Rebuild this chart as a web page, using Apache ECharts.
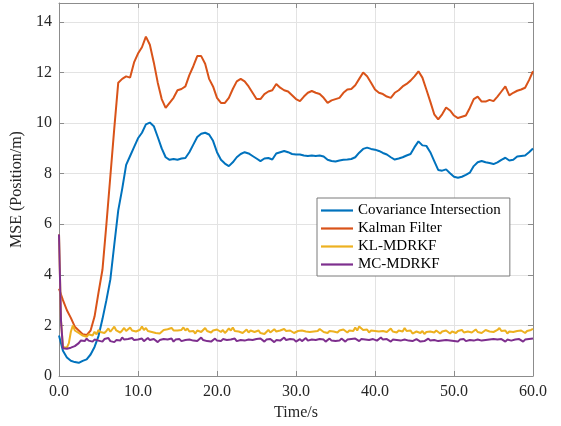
<!DOCTYPE html>
<html>
<head>
<meta charset="utf-8">
<script src="https://cdn.jsdelivr.net/npm/echarts@6/dist/echarts.min.js"></script>
<style>html,body{margin:0;padding:0;background:#fff}#c{width:561px;height:426px}</style>
</head>
<body>
<div id="c"></div>
<script>
// sampling steps (s)
const stepCoarse = 0.5;
const stepFine = 0.25;
const xTicks = [0, 10, 20, 30, 40, 50, 60];
const yTicks = [0, 2, 4, 6, 8, 10, 12, 14];
const seriesNames = ['Covariance Intersection', 'Kalman Filter', 'KL-MDRKF', 'MC-MDRKF'];

// Covariance Intersection, every 0.5 s
const ciValues = [1.6,1.0,0.73,0.6,0.55,0.52,0.6,0.66,0.85,1.15,1.58,2.25,3.0,3.82,5.2,6.55,7.4,8.35,8.7,9.05,
9.4,9.62,9.95,10.02,9.88,9.45,9.0,8.65,8.55,8.58,8.55,8.6,8.62,8.85,9.15,9.45,9.58,9.62,9.55,9.3,
8.85,8.55,8.4,8.3,8.45,8.65,8.78,8.85,8.8,8.7,8.6,8.5,8.6,8.62,8.56,8.8,8.85,8.9,8.85,8.78,
8.76,8.76,8.72,8.7,8.72,8.7,8.72,8.68,8.55,8.5,8.48,8.52,8.55,8.56,8.58,8.65,8.83,8.98,9.03,8.98,
8.95,8.9,8.82,8.76,8.65,8.56,8.6,8.65,8.72,8.78,9.05,9.28,9.12,9.1,8.85,8.5,8.15,8.12,8.17,8.02,
7.88,7.84,7.88,7.95,8.04,8.3,8.45,8.5,8.45,8.42,8.38,8.45,8.55,8.63,8.52,8.55,8.68,8.7,8.72,8.85,9.0];

// Kalman Filter, every 0.5 s
const kfValues = [3.45,3.0,2.6,2.3,1.95,1.8,1.65,1.62,1.8,2.35,3.3,4.2,6.0,7.9,9.8,11.6,11.75,11.85,11.8,12.4,
12.75,13.0,13.42,13.1,12.4,11.6,10.95,10.6,10.8,11.0,11.3,11.35,11.45,11.9,12.25,12.65,12.65,12.35,11.75,11.45,
11.0,10.8,10.8,11.0,11.35,11.65,11.75,11.65,11.45,11.2,10.95,10.95,11.15,11.25,11.3,11.55,11.4,11.3,11.25,11.1,
10.95,10.87,11.05,11.2,11.27,11.2,11.15,11.0,10.8,10.9,10.95,11.0,11.2,11.33,11.35,11.5,11.75,12.0,11.85,11.6,
11.33,11.2,11.15,11.05,11.0,11.2,11.3,11.45,11.55,11.68,11.85,12.05,11.8,11.33,10.85,10.35,10.15,10.35,10.62,10.5,
10.3,10.2,10.25,10.3,10.6,10.95,11.05,10.85,10.85,10.92,10.87,11.05,11.25,11.45,11.1,11.2,11.28,11.33,11.4,11.7,12.05];

// KL-MDRKF, every 0.25 s
const klValues = [5.6,2.2,1.15,1.1,1.12,1.3,1.75,2.0,1.8,1.78,1.7,1.75,1.6,1.62,1.55,1.65,1.72,1.6,1.75,1.65,1.82,
1.74,1.8,1.7,1.78,1.88,1.75,1.82,1.95,1.8,1.85,1.72,1.8,1.9,1.78,1.84,1.92,1.8,1.86,1.76,1.82,
1.83,1.96,1.82,1.9,1.78,1.85,1.74,1.8,1.7,1.76,1.68,1.74,1.82,1.76,1.85,1.78,1.9,1.8,1.86,1.8,
1.75,1.82,1.92,1.8,1.88,1.76,1.7,1.78,1.68,1.8,1.86,1.74,1.82,1.9,1.78,1.84,1.72,1.8,1.76,1.84,
1.86,1.74,1.82,1.7,1.78,1.88,1.8,1.92,1.78,1.85,1.76,1.82,1.7,1.76,1.84,1.72,1.8,1.86,1.74,1.78,
1.8,1.7,1.76,1.66,1.74,1.82,1.72,1.78,1.85,1.76,1.7,1.8,1.74,1.86,1.78,1.72,1.8,1.76,1.7,1.74,
1.78,1.72,1.8,1.86,1.76,1.82,1.74,1.68,1.76,1.82,1.78,1.86,1.8,1.74,1.8,1.7,1.78,1.84,1.76,1.8,
1.72,1.8,1.76,1.84,1.78,1.72,1.8,1.86,1.78,1.92,1.8,1.96,2.0,1.82,1.76,1.84,1.72,1.8,1.74,1.78,
1.82,1.76,1.7,1.78,1.84,1.74,1.8,1.88,1.76,1.82,1.72,1.8,1.86,1.76,1.9,1.78,1.72,1.8,1.68,1.74,
1.76,1.82,1.7,1.78,1.66,1.74,1.68,1.76,1.82,1.72,1.8,1.74,1.68,1.76,1.7,1.8,1.74,1.68,1.76,1.72,
1.7,1.78,1.74,1.82,1.72,1.66,1.76,1.8,1.72,1.78,1.84,1.74,1.8,1.7,1.76,1.82,1.86,1.76,1.8,1.74,
1.74,1.82,1.9,1.78,1.72,1.8,1.68,1.76,1.82,1.74,1.7,1.78,1.72,1.8,1.76,1.7,1.78,1.74,1.82,1.86];

// MC-MDRKF, every 0.25 s
const mcValues = [5.6,2.2,1.1,1.05,1.08,1.1,1.12,1.1,1.18,1.25,1.3,1.4,1.45,1.38,1.48,1.4,1.46,1.36,1.44,1.5,1.4,
1.42,1.36,1.46,1.4,1.5,1.38,1.44,1.34,1.42,1.48,1.4,1.52,1.44,1.38,1.46,1.4,1.5,1.42,1.36,1.44,
1.4,1.48,1.38,1.44,1.5,1.42,1.36,1.46,1.4,1.34,1.42,1.38,1.46,1.52,1.44,1.4,1.48,1.36,1.44,1.4,
1.46,1.38,1.32,1.42,1.36,1.44,1.5,1.4,1.46,1.38,1.44,1.52,1.42,1.48,1.38,1.44,1.36,1.42,1.48,1.4,
1.44,1.38,1.46,1.5,1.42,1.36,1.44,1.4,1.48,1.38,1.34,1.42,1.46,1.4,1.36,1.44,1.5,1.42,1.38,1.46,
1.4,1.48,1.42,1.36,1.44,1.38,1.46,1.4,1.34,1.42,1.48,1.4,1.44,1.52,1.42,1.38,1.46,1.4,1.44,1.36,
1.42,1.46,1.38,1.44,1.5,1.4,1.36,1.44,1.48,1.42,1.38,1.46,1.4,1.44,1.36,1.42,1.48,1.4,1.44,1.38,
1.44,1.4,1.48,1.42,1.36,1.44,1.5,1.46,1.4,1.48,1.42,1.38,1.46,1.4,1.44,1.5,1.42,1.38,1.46,1.42,
1.4,1.46,1.52,1.44,1.38,1.46,1.42,1.36,1.44,1.5,1.42,1.46,1.4,1.36,1.44,1.48,1.4,1.44,1.38,1.42,
1.46,1.4,1.36,1.42,1.38,1.44,1.48,1.4,1.34,1.42,1.46,1.38,1.44,1.4,1.36,1.42,1.48,1.4,1.44,1.38,
1.42,1.36,1.44,1.4,1.46,1.38,1.32,1.42,1.46,1.4,1.36,1.44,1.48,1.4,1.46,1.42,1.38,1.44,1.4,1.46,
1.4,1.44,1.38,1.46,1.42,1.36,1.44,1.48,1.4,1.38,1.44,1.4,1.46,1.42,1.36,1.44,1.4,1.46,1.42,1.48];

function pairs(vals, step) { return vals.map((v, i) => [+(i * step).toFixed(2), v]); }

const FONT = '"Liberation Serif","DejaVu Serif",serif';
const colors = ['#0072BD', '#D95319', '#EDB120', '#7E2F8E'];
const axisGray = '#8c8c8c';
const gridGray = '#e3e3e3';

const chart = echarts.init(document.getElementById('c'), null, { renderer: 'canvas' });

function lineSeries(name, data, color, z) {
  return {
    name: name, type: 'line', data: data, showSymbol: false, symbol: 'none',
    lineStyle: { color: color, width: 2 }, itemStyle: { color: color },
    xAxisIndex: 0, yAxisIndex: 0, animation: false, z: z
  };
}

chart.setOption({
  animation: false,
  backgroundColor: '#fff',
  grid: { left: 59, top: 3, right: 28, bottom: 49, containLabel: false },
  legend: {
    orient: 'vertical', left: 317, top: 198,
    data: seriesNames.map((n, i) => ({ name: n, icon: 'rect', itemStyle: { color: colors[i] } })),
    itemWidth: 32, itemHeight: 2.2, itemGap: 3,
    padding: [5, 9, 4, 4],
    backgroundColor: '#fff', borderColor: '#7a7a7a', borderWidth: 1,
    textStyle: { fontFamily: FONT, fontSize: 15, color: '#000' }
  },
  xAxis: [{
    type: 'value', min: xTicks[0], max: xTicks[xTicks.length - 1], interval: 10,
    name: 'Time/s', nameLocation: 'middle', nameGap: 29,
    nameTextStyle: { fontFamily: FONT, fontSize: 16, color: '#262626' },
    axisLine: { show: true, onZero: false, lineStyle: { color: axisGray, width: 1 } },
    axisTick: { show: true, inside: true, length: 5, lineStyle: { color: axisGray } },
    axisLabel: { fontFamily: FONT, fontSize: 16, color: '#262626', margin: 8, formatter: v => v.toFixed(1) },
    splitLine: { show: true, lineStyle: { color: gridGray, width: 1 } }
  }, {
    type: 'value', position: 'top', min: 0, max: 60, interval: 10,
    axisLine: { show: true, onZero: false, lineStyle: { color: axisGray, width: 1 } },
    axisTick: { show: true, inside: true, length: 5, lineStyle: { color: axisGray } },
    axisLabel: { show: false }, splitLine: { show: false }
  }],
  yAxis: [{
    type: 'value', min: yTicks[0], max: 14.75, interval: 2,
    name: 'MSE (Position/m)', nameLocation: 'middle', nameGap: 27,
    nameTextStyle: { fontFamily: FONT, fontSize: 16, color: '#262626' },
    axisLine: { show: true, onZero: false, lineStyle: { color: axisGray, width: 1 } },
    axisTick: { show: true, inside: true, length: 5, lineStyle: { color: axisGray } },
    axisLabel: { fontFamily: FONT, fontSize: 16, color: '#262626', margin: 7,
      formatter: v => (yTicks.indexOf(v) >= 0 ? String(v) : '') },
    splitLine: { show: true, lineStyle: { color: gridGray, width: 1 } }
  }, {
    type: 'value', position: 'right', min: 0, max: 14.75, interval: 2,
    axisLine: { show: true, onZero: false, lineStyle: { color: axisGray, width: 1 } },
    axisTick: { show: true, inside: true, length: 5, lineStyle: { color: axisGray } },
    axisLabel: { show: false }, splitLine: { show: false }
  }],
  series: [
    lineSeries(seriesNames[0], pairs(ciValues, stepCoarse), colors[0], 2),
    lineSeries(seriesNames[1], pairs(kfValues, stepCoarse), colors[1], 3),
    lineSeries(seriesNames[2], pairs(klValues, stepFine), colors[2], 4),
    lineSeries(seriesNames[3], pairs(mcValues, stepFine), colors[3], 5)
  ]
});
</script>
</body>
</html>
